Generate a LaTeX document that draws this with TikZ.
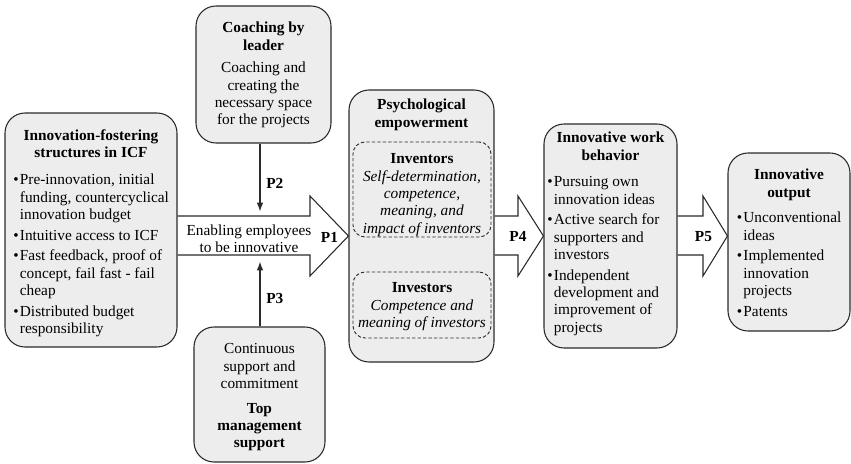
\documentclass[tikz,border=0pt]{standalone}
\usepackage{fontspec}
\setmainfont{Liberation Serif}
\usetikzlibrary{fit,arrows.meta}
\definecolor{boxgray}{HTML}{EDEDED}
\definecolor{edge}{HTML}{2A2A2A}
% fixed height of the first line, so text blocks can be placed by their top
\newcommand\fl{\rule{0pt}{9pt}}
% bullet and the indent of continuation lines
\newcommand\bi{\makebox[5pt][l]{\textbullet}}
\newcommand\bc{\makebox[5pt]{}}
\newcommand\bodyfont{\fontsize{11.5}{13}\selectfont}
\pgfdeclarelayer{bg}
\pgfsetlayers{bg,main}

\begin{document}
\begin{tikzpicture}[x=0.75pt,y=-0.75pt,
  box/.style={draw=edge, line width=0.8pt, fill=boxgray, rounded corners=15pt, inner sep=0pt},
  subbox/.style={draw=edge, dash pattern=on 2.5pt off 1.6pt, line width=0.7pt, fill=boxgray, rounded corners=9pt, inner sep=0pt},
  txt/.style={inner sep=0pt, font=\bodyfont, align=center, anchor=north},
  lst/.style={inner sep=0pt, font=\bodyfont, align=left, anchor=north west},
  lbl/.style={inner sep=0pt, font=\bodyfont\bfseries},
  blockarrow/.style={draw=edge, line width=0.8pt, fill=white, line join=miter},
  push/.style={draw=edge, line width=1.5pt, -{Latex[length=7pt,width=5pt]}}
]
\useasboundingbox (0,0) rectangle (851,464);

% boxes
\node[box, fit={(5,113) (177,347)}] (icf) {};
\node[box, fit={(196,6) (331,143)}] (coach) {};
\node[box, fit={(194,327) (325,462)}] (tms) {};
\node[box, fit={(349,90) (494,362)}] (psy) {};
\node[subbox, fit={(353,142) (491,237)}] (inv) {};
\node[subbox, fit={(353,272) (491,338)}] (ivs) {};
\node[box, fit={(544,124) (677,348)}] (iwb) {};
\node[box, fit={(728,153) (850,331)}] (out) {};

% levels of the block arrows
\coordinate (yt) at (0,216);
\coordinate (yb) at (0,255);
\coordinate (yc) at (0,236);
\coordinate (ax) at (260,0);
\coordinate (p2end) at (260,212);
\coordinate (p3end) at (260,261);

\begin{pgfonlayer}{bg}
  \draw[blockarrow] (icf.east |- yt) -- (310,216) -- (310,196) -- (psy.west |- yc)
    -- (310,276) -- (310,255) -- (icf.east |- yb);
  \draw[blockarrow] (psy.east |- yt) -- (518,216) -- (518,196) -- (iwb.west |- yc)
    -- (518,276) -- (518,255) -- (psy.east |- yb);
  \draw[blockarrow] (iwb.east |- yt) -- (703,216) -- (703,196) -- (out.west |- yc)
    -- (703,276) -- (703,255) -- (iwb.east |- yb);
\end{pgfonlayer}

\draw[push] (coach.south -| ax) -- (p2end);
\draw[push] (tms.north -| ax) -- (p3end);

% labels on the arrows
\node[lbl, anchor=west] (p2) at (266,183) {P2};
\node[lbl, anchor=west] (p3) at (266,298) {P3};
\node[lbl] (p1) at (329.5,237) {P1};
\node[lbl] (p4) at (518,236) {P4};
\node[lbl] (p5) at (703.5,237) {P5};
\node[inner sep=0pt, font=\bodyfont, align=center] (enab) at (249,238.5)
  {Enabling employees\\to be innovative};

% box contents
\node[txt, font=\bodyfont\bfseries] (icf-t) at (91,128) {\fl Innovation-fostering\\structures in ICF};
\node[lst] (icf-l) at (13,172.5) {\fl\bi Pre-innovation, initial\\\bc funding, countercyclical\\\bc innovation budget\\[2.5pt]\bi Intuitive access to ICF\\[2.5pt]\bi Fast feedback, proof of\\\bc concept, fail fast - fail\\\bc cheap\\[2.5pt]\bi Distributed budget\\\bc responsibility};

\node[txt] (coach-t) at (263.5,20.5) {\fl\textbf{Coaching by}\\\textbf{leader}\\[4pt]Coaching and\\creating the\\necessary space\\for the projects};

\node[txt] (tms-t) at (259.5,341.5) {\fl Continuous\\support and\\commitment\\[5.5pt]\textbf{Top}\\\textbf{management}\\\textbf{support}};

\node[txt, font=\bodyfont\bfseries] (psy-t) at (421.5,97.5) {\fl Psychological\\empowerment};
\node[txt] (inv-t) at (422,151.5) {\fl\textbf{Inventors}\\\textit{Self-determination,}\\\textit{competence,}\\\textit{meaning, and}\\\textit{impact of inventors}};
\node[txt] (ivs-t) at (422,280.5) {\fl\textbf{Investors}\\\textit{Competence and}\\\textit{meaning of investors}};

\node[txt, font=\bodyfont\bfseries] (iwb-t) at (610.5,130.5) {\fl Innovative work\\behavior};
\node[lst] (iwb-l) at (547,174.5) {\fl\bi Pursuing own\\\bc innovation ideas\\[2.5pt]\bi Active search for\\\bc supporters and\\\bc investors\\[2.5pt]\bi Independent\\\bc development and\\\bc improvement of\\\bc projects};

\node[txt, font=\bodyfont\bfseries] (out-t) at (789,167.5) {\fl Innovative\\output};
\node[lst] (out-l) at (736.5,210.5) {\fl\bi Unconventional\\\bc ideas\\[2.5pt]\bi Implemented\\\bc innovation\\\bc projects\\[2.5pt]\bi Patents};
\end{tikzpicture}
\end{document}
